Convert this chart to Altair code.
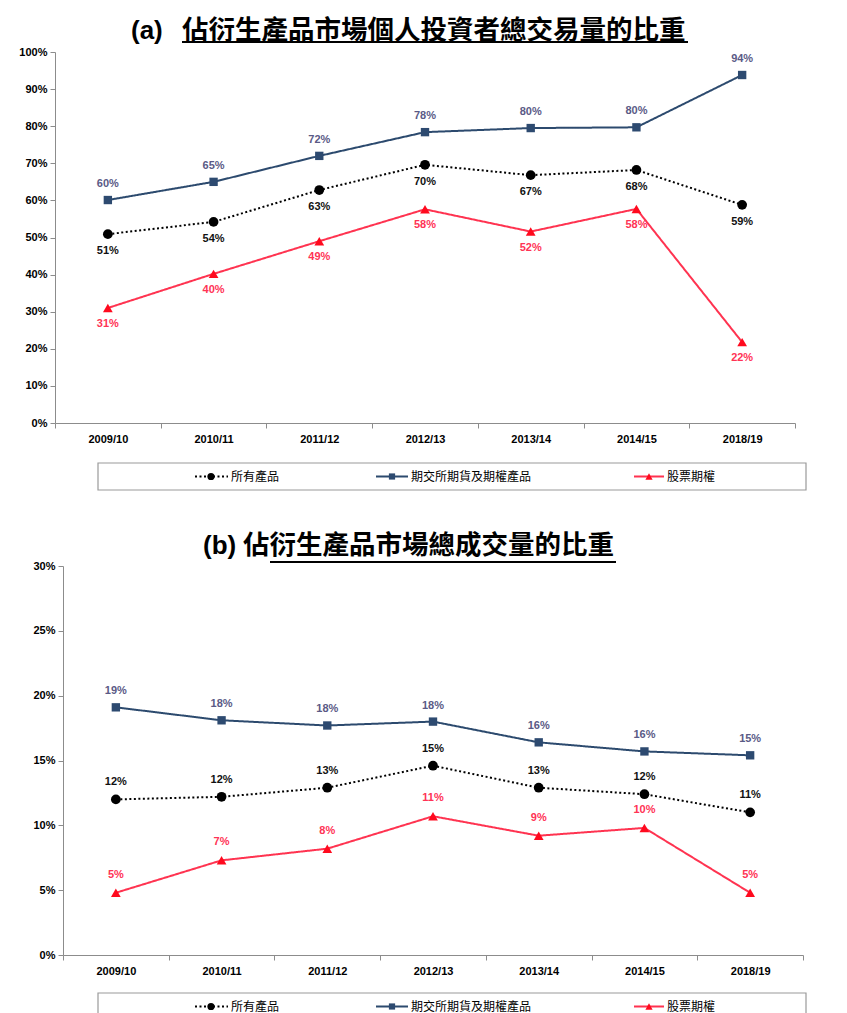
import altair as alt
import pandas as pd

categories = ["2009/10", "2010/11", "2011/12", "2012/13", "2013/14", "2014/15", "2018/19"]
series_names = ["所有產品", "期交所期貨及期權產品", "股票期權"]

# Panel (a) values, %
a_all = [50.9, 54.2, 62.8, 69.6, 66.8, 68.2, 58.8]
a_hkex = [60.1, 65.0, 72.0, 78.4, 79.5, 79.7, 93.8]
a_stock = [31.0, 40.2, 49.0, 57.6, 51.6, 57.7, 21.8]

# Panel (b) values, %
b_all = [12.0, 12.2, 12.9, 14.6, 12.9, 12.4, 11.0]
b_hkex = [19.1, 18.1, 17.7, 18.0, 16.4, 15.7, 15.4]
b_stock = [4.8, 7.3, 8.2, 10.7, 9.2, 9.8, 4.8]

title_a_tag = "(a)"
title_a_text = "佔衍生產品市場個人投資者總交易量的比重"
title_b_tag = "(b)"
title_b_text = "佔衍生產品市場總成交量的比重"

LAT = "Liberation Sans"
CJK = "Noto Sans CJK TC"

styles = {
    "所有產品": dict(color="#000000", label="#111111", shape="circle", size=95, dash=[2, 2.5], width=2),
    "期交所期貨及期權產品": dict(color="#2c4a6e", label="#5a5a86", shape="square", size=70, dash=[1, 0], width=2),
    "股票期權": dict(color="#ff3350", label="#ff3355", shape="triangle-up", size=95, dash=[1, 0], width=2),
}
pt_color = {"所有產品": "#000000", "期交所期貨及期權產品": "#2d4a70", "股票期權": "#ff0a1e"}

one = pd.DataFrame({"k": [0]})


def panel(vals, ymax, ystep, dys, tag, text, tag_x, text_x, ul_x0, ul_x1, title_y, ul_y,
          W, H, x_off, box_top):
    xenc = alt.X("cat:N", sort=categories,
                 scale=alt.Scale(type="band", domain=categories, paddingInner=0, paddingOuter=0,
                                 range=[x_off, x_off + W]),
                 axis=alt.Axis(title=None, labelFont=LAT, labelFontWeight="bold", labelFontSize=11,
                               labelColor="#000", tickBand="extent", domainColor="#8c8c8c",
                               tickColor="#8c8c8c", labelPadding=5, labelAngle=0, grid=False,
                               tickSize=5))
    yenc = alt.Y("v:Q", scale=alt.Scale(domain=[0, ymax], nice=False, zero=True),
                 axis=alt.Axis(title=None, values=list(range(0, ymax + 1, ystep)),
                               labelExpr="datum.value + '%'", grid=False, labelFont=LAT,
                               labelFontWeight="bold", labelFontSize=11, labelColor="#000",
                               domainColor="#8c8c8c", tickColor="#8c8c8c", tickSize=5,
                               labelPadding=3, offset=-x_off, minExtent=42, maxExtent=42))
    layers = []
    for name, v, dy in zip(series_names, vals, dys):
        st = styles[name]
        df = pd.DataFrame({"cat": categories, "v": v})
        base = alt.Chart(df).encode(x=xenc, y=yenc)
        layers.append(base.mark_line(color=st["color"], strokeWidth=st["width"],
                                     strokeDash=st["dash"], strokeCap="butt"))
        layers.append(base.mark_point(filled=True, opacity=1, shape=st["shape"], size=st["size"],
                                      color=pt_color[name]))
        layers.append(base.transform_calculate(lbl="format(datum.v, '.0f') + '%'")
                      .mark_text(dy=dy, font=LAT, fontWeight="bold", fontSize=11, color=st["label"])
                      .encode(text="lbl:N"))
    # title
    t = alt.Chart(one)
    layers.append(t.mark_text(text=tag, font=LAT, fontWeight="bold", fontSize=26, align="left",
                              baseline="middle", color="#000")
                  .encode(x=alt.value(tag_x), y=alt.value(title_y)))
    layers.append(t.mark_text(text=text, font=CJK, fontWeight="bold", fontSize=26.5, align="left",
                              baseline="middle", color="#000")
                  .encode(x=alt.value(text_x), y=alt.value(title_y)))
    layers.append(t.mark_rule(color="#000", strokeWidth=2)
                  .encode(x=alt.value(ul_x0), x2=alt.value(ul_x1), y=alt.value(ul_y)))
    # legend box
    bx0, bx1 = 43, 751
    yt = H + box_top
    yc = yt + 13.5
    layers.append(t.mark_rect(fill="white", stroke="#9a9a9a", strokeWidth=1.2)
                  .encode(x=alt.value(bx0), x2=alt.value(bx1), y=alt.value(yt), y2=alt.value(yt + 27)))
    leg_pos = [(140, 173, 156, 176), (321, 353, 337, 356), (579, 609, 594, 612)]
    for name, (l0, l1, px, tx) in zip(series_names, leg_pos):
        st = styles[name]
        layers.append(t.mark_rule(color=st["color"], strokeWidth=st["width"], strokeDash=st["dash"])
                      .encode(x=alt.value(l0), x2=alt.value(l1), y=alt.value(yc)))
        layers.append(t.mark_point(filled=True, opacity=1, shape=st["shape"], size=st["size"] * 0.55,
                                   color=pt_color[name])
                      .encode(x=alt.value(px), y=alt.value(yc)))
        layers.append(t.mark_text(text=name, font=CJK, fontSize=12, align="left", baseline="middle",
                                  color="#000")
                      .encode(x=alt.value(tx), y=alt.value(yc)))
    return alt.layer(*layers).properties(width=W + x_off, height=H)


pa = panel([a_all, a_hkex, a_stock], 100, 10, [17, -16, 16], title_a_tag, title_a_text,
           76, 127, 127, 633, -21, -10, 740, 371, 0, 40)
pb = panel([b_all, b_hkex, b_stock], 30, 5, [-17, -16, -18], title_b_tag, title_b_text,
           148, 188, 215, 561, -20, -4, 740, 389, 8, 38)

chart = (alt.vconcat(pa, pb, spacing=42)
         .configure_view(stroke=None)
         .properties(background="white", padding={"top": 10, "left": 5, "right": 5, "bottom": 5}))
chart.save("out.html", embed_options={"renderer": "svg", "actions": False})
